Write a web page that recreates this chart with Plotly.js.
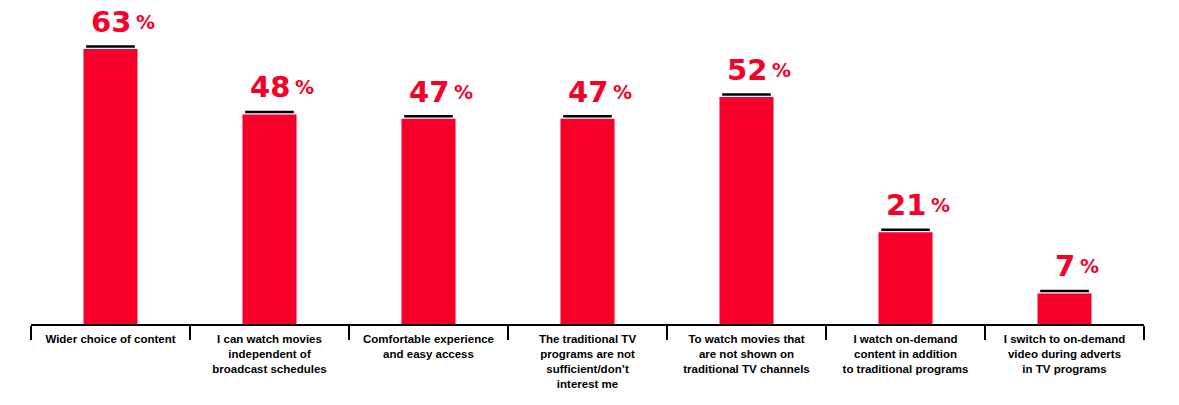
<!DOCTYPE html>
<html>
<head>
<meta charset="utf-8">
<script src="https://cdn.plot.ly/plotly-3.0.1.min.js"></script>
<style>html,body{margin:0;padding:0;background:#fff;}#chart{width:1179px;height:405px;}</style>
</head>
<body>
<div id="chart"></div>
<script>
var categories = [
  "Wider choice of content",
  "I can watch movies<br>independent of<br>broadcast schedules",
  "Comfortable experience<br>and easy access",
  "The traditional TV<br>programs are not<br>sufficient/don\u2019t<br>interest me",
  "To watch movies that<br>are not shown on<br>traditional TV channels",
  "I watch on-demand<br>content in addition<br>to traditional programs",
  "I switch to on-demand<br>video during adverts<br>in TV programs"
];
var values = [63, 48, 47, 47, 52, 21, 7];

var RED = '#F6002A';

var shapes = [];
var annotations = [];
values.forEach(function (v, i) {
  shapes.push({
    type: 'line', xref: 'x', yref: 'y',
    x0: i - 0.153, x1: i + 0.153,
    ysizemode: 'pixel', yanchor: v, y0: 2.5, y1: 2.5,
    line: {color: '#000', width: 2.5}
  });
  var s = String(v);
  annotations.push({
    x: i, y: v, xref: 'x', yref: 'y', text: s, showarrow: false,
    xanchor: 'center', yanchor: 'bottom', yshift: 8,
    font: {family: 'DejaVu Sans', size: 29, color: RED, weight: 'bold'}
  });
  annotations.push({
    x: i, y: v, xref: 'x', yref: 'y', text: '%', showarrow: false,
    xanchor: 'left', yanchor: 'bottom', yshift: 14,
    xshift: s.length * 10.1 + 3,
    font: {family: 'DejaVu Sans', size: 19, color: RED, weight: 'bold'}
  });
});

var trace = {
  type: 'bar',
  x: categories,
  y: values,
  width: 0.34,
  marker: {color: RED, line: {width: 0}},
  hoverinfo: 'none'
};

var layout = {
  width: 1179, height: 405,
  margin: {l: 31, r: 35, t: 0, b: 81, pad: 0},
  paper_bgcolor: '#fff', plot_bgcolor: '#fff',
  showlegend: false,
  xaxis: {
    type: 'category',
    showline: true, linecolor: '#000', linewidth: 2,
    ticks: 'outside', tickson: 'boundaries', ticklen: 14, tickwidth: 2, tickcolor: '#000',
    ticklabelstandoff: 3,
    tickfont: {family: 'Liberation Sans', size: 11.5, color: '#000', weight: 'bold'},
    tickangle: 0,
    showgrid: false, zeroline: false,
    range: [-0.5, 6.5]
  },
  yaxis: {
    visible: false, range: [0, 74.2], showgrid: false, zeroline: false
  },
  shapes: shapes,
  annotations: annotations
};

Plotly.newPlot('chart', [trace], layout, {displayModeBar: false, staticPlot: true});
</script>
</body>
</html>
